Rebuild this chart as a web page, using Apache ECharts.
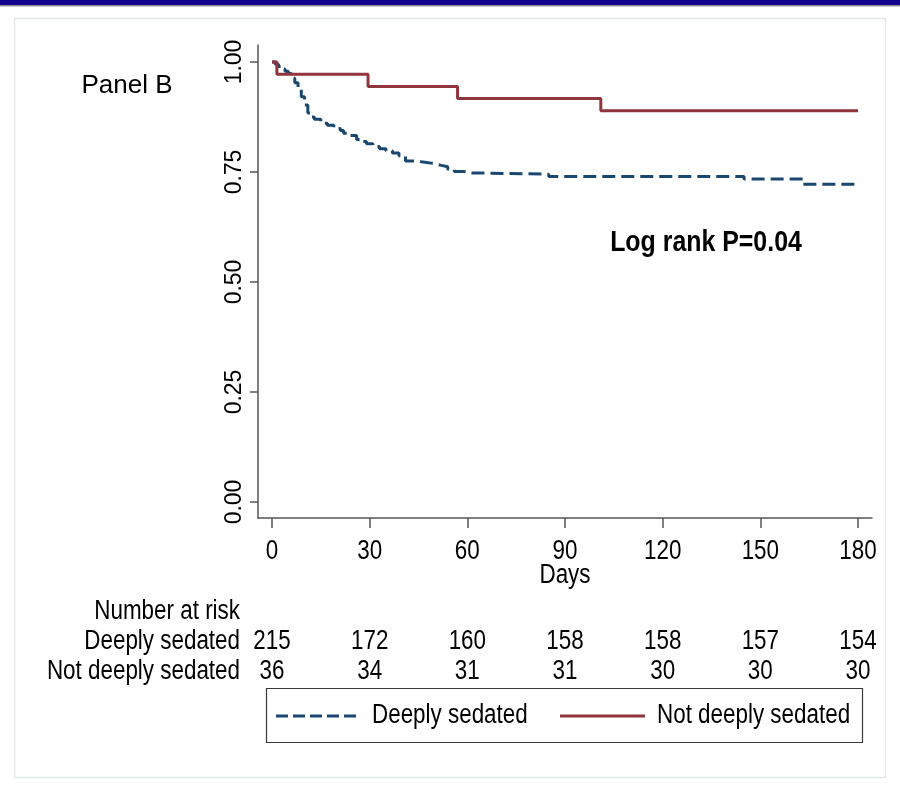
<!DOCTYPE html>
<html>
<head>
<meta charset="utf-8">
<title>Panel B - survival by sedation depth</title>
<script src="https://cdn.jsdelivr.net/npm/echarts@6/dist/echarts.min.js"></script>
<style>
  html, body { margin: 0; padding: 0; background: #ffffff; }
  #chart { width: 900px; height: 786px; }
</style>
</head>
<body>
<div id="chart"></div>
<script>
// Axis ticks
const dayTicks = [0, 30, 60, 90, 120, 150, 180];
const survTicks = [0, 0.25, 0.5, 0.75, 1];

// Group names
const deepLabel = 'Deeply sedated';
const notDeepLabel = 'Not deeply sedated';

// Kaplan-Meier steps: day of change and survival after it
const deepDays = [0, 1, 2, 3, 4, 5, 6, 7, 8, 9, 10, 11, 12, 13, 15, 17, 19, 21, 22, 24, 26, 27, 29, 31, 33, 35, 37, 39, 41, 44, 47, 50, 52, 54, 56, 59, 61, 85, 145, 163, 180];
const deepSurv = [1, 0.995, 0.990, 0.984, 0.979, 0.974, 0.963, 0.953, 0.940, 0.921, 0.902, 0.884, 0.875, 0.870, 0.861, 0.856, 0.849, 0.844, 0.838, 0.833, 0.824, 0.819, 0.814, 0.808, 0.803, 0.798, 0.793, 0.787, 0.775, 0.772, 0.769, 0.765, 0.762, 0.756, 0.751, 0.748, 0.745, 0.740, 0.734, 0.722, 0.722];

const notDeepDays = [0, 1.5, 29.5, 57, 101, 180];
const notDeepSurv = [1, 0.972, 0.944, 0.917, 0.889, 0.889];

// Number at risk at each tick day
const riskDeep = [215, 172, 160, 158, 158, 157, 154];
const riskNotDeep = [36, 34, 31, 31, 30, 30, 30];
const riskRows = ['Number at risk', deepLabel, notDeepLabel];

// Condensed sans text: Liberation Sans squeezed horizontally
const SQUEEZE = 0.83;
const FONT = "27px 'Liberation Sans', Arial, sans-serif";
const AXIS_GRAY = '#555555';
const NAVY = '#1a476f';
const MAROON = '#90353b';
const X_MIN = -4.3, X_MAX = 184.3;
const Y_MIN = -0.0364, Y_MAX = 1.0386;

const chart = echarts.init(document.getElementById('chart'), null, { renderer: 'canvas' });

const pairs = (xs, ys) => xs.map((x, i) => [x, ys[i]]);

function narrowText(text, x, y, align, extra) {
  return Object.assign({
    type: 'text', x: x, y: y, scaleX: SQUEEZE,
    style: { text: text, font: FONT, fill: '#000', align: align, verticalAlign: 'middle' }
  }, extra || {});
}

// Legend drawn as a framed key below the risk table
const legendBox = { x: 266, y: 688, w: 596, h: 54 };
const legendMidY = legendBox.y + legendBox.h / 2 + 1;

const option = {
  animation: false,
  backgroundColor: '#ffffff',
  graphic: [
    { type: 'rect', z: -10, shape: { x: 14.5, y: 18.5, width: 871, height: 759 },
      style: { fill: '#ffffff', stroke: '#e3e8e8', lineWidth: 1.5 } },
    { type: 'rect', shape: { x: 0, y: 0, width: 900, height: 5 }, style: { fill: '#14008f' } },
    { type: 'rect', shape: { x: 0, y: 5, width: 900, height: 1.5 }, style: { fill: '#8c8c8c' } },
    { type: 'text', x: 127, y: 86,
      style: { text: 'Panel B', font: "26px 'Liberation Sans', Arial, sans-serif", fill: '#000', align: 'center', verticalAlign: 'middle' } },
    { type: 'text', x: 706, y: 243, scaleX: 0.83,
      style: { text: 'Log rank P=0.04', font: "bold 30px 'Liberation Sans', Arial, sans-serif", fill: '#000', align: 'center', verticalAlign: 'middle' } },
    narrowText('Days', 258 + 614 / 2, 576, 'center'),
    // key
    { type: 'rect', shape: { x: legendBox.x + 0.5, y: legendBox.y + 0.5, width: legendBox.w, height: legendBox.h },
      style: { fill: '#ffffff', stroke: '#3a3a3a', lineWidth: 1.2 } },
    { type: 'line', shape: { x1: 276, y1: legendMidY, x2: 360, y2: legendMidY },
      style: { stroke: NAVY, lineWidth: 3, lineDash: [12, 5] } },
    narrowText(deepLabel, 372, legendMidY, 'left'),
    { type: 'line', shape: { x1: 560, y1: legendMidY, x2: 645, y2: legendMidY },
      style: { stroke: MAROON, lineWidth: 3 } },
    narrowText(notDeepLabel, 657, legendMidY, 'left')
  ],
  grid: [
    { left: 258, top: 45, width: 614, height: 473, outerBoundsMode: 'none' },
    { left: 258, top: 597, width: 614, height: 90, outerBoundsMode: 'none' }
  ],
  xAxis: [
    {
      gridIndex: 0, type: 'value', min: X_MIN, max: X_MAX,
      axisLine: { show: true, onZero: false, lineStyle: { color: AXIS_GRAY, width: 1.5 } },
      axisTick: { show: true, length: 10, customValues: dayTicks, lineStyle: { color: AXIS_GRAY, width: 1.5 } },
      axisLabel: { show: false },
      splitLine: { show: false }
    },
    { gridIndex: 1, type: 'value', min: X_MIN, max: X_MAX, show: false }
  ],
  yAxis: [
    {
      gridIndex: 0, type: 'value', min: Y_MIN, max: Y_MAX,
      axisLine: { show: true, onZero: false, lineStyle: { color: AXIS_GRAY, width: 1.5 } },
      axisTick: { show: true, length: 8, customValues: survTicks, lineStyle: { color: AXIS_GRAY, width: 1.5 } },
      axisLabel: { customValues: survTicks, rotate: 90, margin: 12, formatter: v => v.toFixed(2),
        fontFamily: "'Liberation Sans', Arial, sans-serif", fontSize: 23, color: '#000' },
      splitLine: { show: false }
    },
    {
      gridIndex: 1, type: 'value', min: -0.5, max: 2.5, inverse: true, show: false
    }
  ],
  series: [
    {
      name: deepLabel, type: 'line', xAxisIndex: 0, yAxisIndex: 0, step: 'end',
      data: pairs(deepDays, deepSurv), symbol: 'none',
      lineStyle: { color: NAVY, width: 3, type: [13, 6] }
    },
    {
      name: notDeepLabel, type: 'line', xAxisIndex: 0, yAxisIndex: 0, step: 'end',
      data: pairs(notDeepDays, notDeepSurv), symbol: 'none',
      lineStyle: { color: MAROON, width: 3 }
    },
    {
      // day labels under the x axis
      type: 'custom', xAxisIndex: 0, yAxisIndex: 0, clip: false, silent: true,
      data: dayTicks.map(d => [d, Y_MIN]),
      renderItem: (params, api) => {
        const p = api.coord([api.value(0), api.value(1)]);
        return narrowText(String(dayTicks[params.dataIndex]), p[0], p[1] + 34, 'center');
      }
    },
    {
      // number-at-risk table: row captions
      type: 'custom', xAxisIndex: 1, yAxisIndex: 1, clip: false, silent: true,
      data: riskRows.map((r, i) => [X_MIN, i]),
      renderItem: (params, api) => {
        const p = api.coord([api.value(0), api.value(1)]);
        return narrowText(riskRows[params.dataIndex], p[0] - 18, p[1], 'right');
      }
    },
    {
      // number-at-risk table: counts at each tick day
      type: 'custom', xAxisIndex: 1, yAxisIndex: 1, clip: false, silent: true,
      data: dayTicks.map((d, i) => [d, 1, riskDeep[i]])
        .concat(dayTicks.map((d, i) => [d, 2, riskNotDeep[i]])),
      renderItem: (params, api) => {
        const p = api.coord([api.value(0), api.value(1)]);
        return narrowText(String(api.value(2)), p[0], p[1], 'center');
      }
    }
  ]
};

chart.setOption(option);
</script>
</body>
</html>
